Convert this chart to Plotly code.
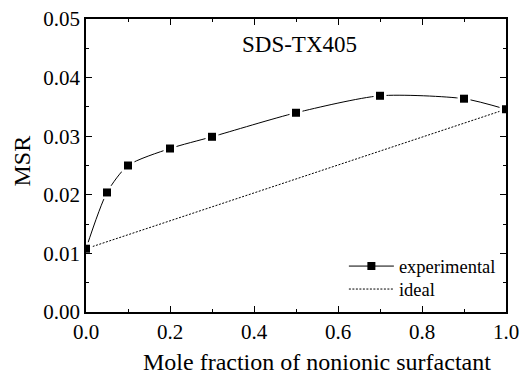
import plotly.graph_objects as go

# Data
x_frac = [0.0, 0.05, 0.1, 0.2, 0.3, 0.5, 0.7, 0.9, 1.0]
msr_exp = [0.0108, 0.0204, 0.0250, 0.0279, 0.0299, 0.0340, 0.0369, 0.0364, 0.0346]
x_ideal = [0.0, 1.0]
msr_ideal = [0.0108, 0.0346]
x_ticks = [0.0, 0.2, 0.4, 0.6, 0.8, 1.0]
y_ticks = [0.00, 0.01, 0.02, 0.03, 0.04, 0.05]

FONT = "Liberation Serif"

fig = go.Figure()

# ideal line
fig.add_trace(go.Scatter(x=x_ideal, y=msr_ideal, mode="lines", name="ideal",
                         line=dict(color="black", width=1, dash="2px,1.5px"),
                         showlegend=False))
# experimental smooth curve
fig.add_trace(go.Scatter(x=x_frac, y=msr_exp, mode="lines",
                         line=dict(color="black", width=1, shape="spline", smoothing=0.7),
                         showlegend=False, hoverinfo="skip"))
# white gaps around markers
fig.add_trace(go.Scatter(x=x_frac, y=msr_exp, mode="markers",
                         marker=dict(symbol="square", size=13, color="white"),
                         showlegend=False, hoverinfo="skip"))
# markers
fig.add_trace(go.Scatter(x=x_frac, y=msr_exp, mode="markers",
                         marker=dict(symbol="square", size=8, color="black"),
                         showlegend=False))
# legend entries
fig.add_trace(go.Scatter(x=[None], y=[None], mode="lines+markers", name="experimental",
                         line=dict(color="black", width=1),
                         marker=dict(symbol="square", size=8, color="black"),
                         legend="legend"))
fig.add_trace(go.Scatter(x=[None], y=[None], mode="lines", name="ideal",
                         line=dict(color="black", width=1, dash="2px,1.5px"),
                         legend="legend2"))

fig.add_annotation(x=0.508, y=0.0457, xref="x", yref="y", text="SDS-TX405",
                   showarrow=False, font=dict(family=FONT, size=23, color="black"))
fig.add_annotation(x=0.55, y=-0.1706, xref="paper", yref="paper",
                   text="Mole fraction of nonionic surfactant", showarrow=False,
                   xanchor="center", yanchor="middle",
                   font=dict(family=FONT, size=24, color="black"))
fig.add_annotation(x=-0.152, y=0.514, xref="paper", yref="paper", text="MSR",
                   textangle=-90, showarrow=False, xanchor="center", yanchor="middle",
                   font=dict(family=FONT, size=24, color="black"))

axis_common = dict(showline=True, linecolor="black", linewidth=1.5, mirror="ticks",
                   ticks="inside", ticklen=6, tickwidth=1, tickcolor="black",
                   showgrid=False, zeroline=False, automargin=False,
                   ticklabeloverflow="allow",
                   tickfont=dict(family=FONT, size=21, color="black"),
                   minor=dict(ticks="inside", ticklen=3, tickcolor="black", showgrid=False))

fig.update_xaxes(range=[0, 1], tickvals=x_ticks, ticktext=[f"{v:.1f}" for v in x_ticks],
                 minor_dtick=0.1, **axis_common)
fig.update_yaxes(range=[0, 0.05], tickvals=y_ticks, ticktext=[f"{v:.2f}" for v in y_ticks],
                 minor_dtick=0.005, **axis_common)

leg_common = dict(xanchor="left", yanchor="top", bgcolor="rgba(0,0,0,0)",
                  itemwidth=45, font=dict(family=FONT, size=18.5, color="black"))
fig.update_layout(width=520, height=375, margin=dict(l=86, r=14, t=19, b=63, autoexpand=False),
                  plot_bgcolor="white", paper_bgcolor="white",
                  legend=dict(x=0.614, y=0.22, **leg_common),
                  legend2=dict(x=0.614, y=0.1416, **leg_common),
                  font=dict(family=FONT, color="black"))

# remove the page's default 8px body margin so the figure fills the window exactly
fig.write_html("out.html", config={"displayModeBar": False},
               post_script="document.body.style.margin='0';document.body.style.overflow='hidden';")
